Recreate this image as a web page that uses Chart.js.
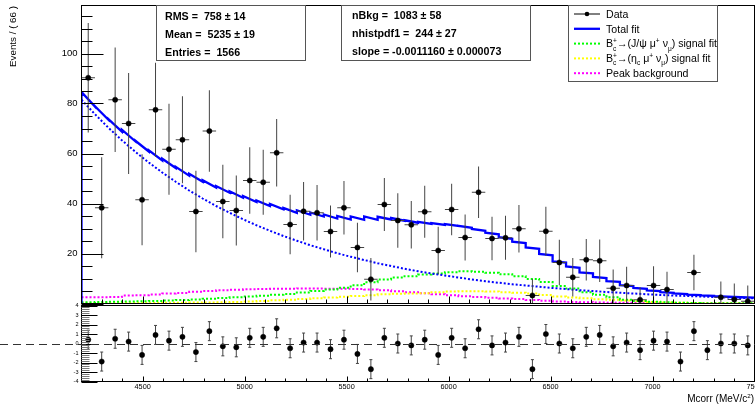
<!DOCTYPE html>
<html>
<head>
<meta charset="utf-8">
<script src="https://cdn.jsdelivr.net/npm/chart.js@4.4.1/dist/chart.umd.min.js"></script>
<style>
  body { margin: 0; background: #fff; }
  #wrap { position: relative; width: 755px; height: 404px; }
  #wrap canvas { position: absolute; left: 0; top: 0; }
</style>
</head>
<body>
<div id="wrap">
  <canvas id="fitPad" width="755" height="404"></canvas>
  <canvas id="pullPad" width="755" height="404"></canvas>
</div>
<script>
// binning: 50 bins of 66 MeV from 4200 to 7500
var binLow = 4200;
var binWidth = 66;

// data (weighted events per bin)
var counts = [90.3, 38.3, 81.5, 72.0, 41.5, 77.5, 61.7, 65.5, 36.8, 69.0,
              40.8, 37.2, 49.2, 48.5, 60.3, 31.6, 36.9, 36.3, 28.8, 38.3,
              22.4, 9.7, 39.6, 33.2, 31.5, 36.7, 21.2, 37.6, 26.4, 44.5,
              26.0, 26.3, 29.9, 3.2, 28.9, 16.4, 10.5, 17.5, 17.1, 6.1,
              7.2, 1.5, 7.2, 5.6, 0, 12.4, 0, 2.5, 1.6, 0.9];
var countErrors = [21.9, 20.2, 20.9, 20.2, 18.2, 18.8, 18.2, 17.4, 16.3, 16.3,
                   14.7, 14.0, 13.3, 13.0, 13.5, 11.9, 11.7, 11.1, 10.4, 10.7,
                   9.9, 8.5, 10.6, 10.9, 9.5, 10.4, 9.5, 10.3, 9.2, 10.3,
                   8.7, 8.8, 9.5, 6.7, 9.8, 9.1, 7.7, 8.3, 8.5, 7.5,
                   7.5, 5.0, 7.7, 7.1, 0, 7.1, 0, 6.3, 6.4, 6.3];

// pulls in the lower pad
var pulls = [0.4, -1.9, 0.5, 0.2, -1.2, 0.9, 0.3, 0.7, -0.9, 1.3,
             -0.3, -0.4, 0.6, 0.7, 1.6, -0.5, 0.1, 0.1, -0.6, 0.4,
             -1.1, -2.7, 0.6, 0.0, -0.2, 0.4, -1.2, 0.6, -0.5, 1.5,
             -0.2, 0.1, 0.7, -2.7, 1.0, 0.0, -0.5, 0.7, 0.9, -0.3,
             0.1, -0.7, 0.3, 0.2, -1.9, 1.3, -0.7, 0.0, 0.0, -0.2];
var pullError = 1;

// combinatorial background (blue dotted), read at the bin edges
var bkgCurve = [81.5, 75.7, 70.3, 65.3, 60.7, 56.4, 52.4, 48.7, 45.2, 42.0,
                39.0, 36.3, 33.7, 31.3, 29.1, 27.0, 25.1, 23.3, 21.7, 20.1,
                18.7, 17.4, 16.1, 15.0, 13.9, 12.9, 12.0, 11.2, 10.4, 9.6,
                8.9, 8.3, 7.7, 7.2, 6.7, 6.2, 5.8, 5.3, 5.0, 4.6,
                4.3, 4.0, 3.7, 3.4, 3.2, 3.0, 2.8, 2.6, 2.4, 2.2, 2.05];

// template components, one value per bin
var jpsiSignal = [0.5, 0.6, 0.7, 0.8, 0.9, 1.0, 1.2, 1.4, 1.6, 1.9,
                  2.2, 2.5, 2.8, 3.1, 3.5, 3.8, 4.4, 5.0, 5.6, 6.3,
                  7.3, 8.5, 9.6, 10.4, 10.9, 11.6, 12.0, 12.5, 12.9, 12.7,
                  12.3, 11.7, 10.9, 9.8, 8.6, 7.0, 6.0, 4.5, 3.5, 2.5,
                  1.5, 1.0, 0.7, 0.5, 0.3, 0.2, 0.15, 0.1, 0.1, 0.1];
var etacSignal = [0.1, 0.1, 0.15, 0.2, 0.2, 0.25, 0.3, 0.35, 0.4, 0.45,
                  0.5, 0.6, 0.8, 1.0, 1.3, 1.5, 1.8, 2.1, 2.4, 2.7,
                  3.0, 3.3, 3.7, 3.9, 4.0, 4.1, 4.5, 4.8, 4.9, 4.9,
                  4.8, 4.5, 4.3, 4.0, 3.4, 2.8, 2.4, 2.1, 1.7, 1.5,
                  1.2, 0.9, 0.6, 0.4, 0.3, 0.2, 0.15, 0.1, 0.1, 0.1];
var peakBkg = [2.5, 2.5, 2.6, 3.2, 3.3, 3.6, 4.0, 4.2, 4.7, 5.0,
               5.3, 5.5, 5.7, 5.8, 5.9, 5.9, 6.0, 6.0, 5.9, 5.9,
               5.8, 5.6, 5.3, 4.9, 4.5, 4.1, 3.7, 3.3, 2.9, 2.6,
               2.3, 2.0, 1.8, 1.4, 1.1, 0.8, 0.6, 0.5, 0.4, 0.35,
               0.3, 0.3, 0.25, 0.2, 0.2, 0.15, 0.15, 0.1, 0.1, 0.1];

var yTickLabels = [20, 40, 60, 80, 100];
var xTickLabels = [4500, 5000, 5500, 6000, 6500, 7000, 7500];
var pullTickLabels = [4, 3, 2, 1, 0, -1, -2, -3, -4];

var statsLeft = ['RMS =  758 \u00b1 14', 'Mean =  5235 \u00b1 19', 'Entries =  1566'];
var statsRight = ['nBkg =  1083 \u00b1 58', 'nhistpdf1 =  244 \u00b1 27', 'slope = -0.0011160 \u00b1 0.000073'];

var FONT = '"Liberation Sans", Arial, Helvetica, sans-serif';

function edge(k) { return binLow + k * binWidth; }
function center(k) { return binLow + (k + 0.5) * binWidth; }

var dataPoints = [];
counts.forEach(function (v, k) {
    if (v > 0) dataPoints.push({ x: center(k), y: v, err: countErrors[k] });
});
var pullPoints = pulls.map(function (v, k) { return { x: center(k), y: v }; });

function histLine(vals) {
    var pts = vals.map(function (v, k) { return { x: edge(k), y: v }; });
    pts.push({ x: edge(vals.length), y: vals[vals.length - 1] });
    return pts;
}
var bkgPoints = bkgCurve.map(function (v, k) { return { x: edge(k), y: v }; });
var totalPoints = [{ x: edge(0), y: 0 }];
for (var k = 0; k < counts.length; k++) {
    var h = jpsiSignal[k] + etacSignal[k] + peakBkg[k];
    totalPoints.push({ x: edge(k), y: bkgCurve[k] + h }, { x: edge(k + 1), y: bkgCurve[k + 1] + h });
}

function line(ctx, x1, y1, x2, y2) {
    ctx.beginPath(); ctx.moveTo(x1, y1); ctx.lineTo(x2, y2); ctx.stroke();
}

// text with ROOT-like sub/superscripts
function richText(ctx, x, y, parts, size) {
    var small = size * 0.62;
    parts.forEach(function (p) {
        var kind = p[p.length - 1];
        if (kind === 0) {
            ctx.font = size + 'px ' + FONT;
            ctx.fillText(p[0], x, y);
            x += ctx.measureText(p[0]).width;
        } else if (kind === 1) {
            ctx.font = small + 'px ' + FONT;
            ctx.fillText(p[0], x, y - size * 0.4);
            x += ctx.measureText(p[0]).width;
        } else if (kind === 2) {
            ctx.font = small + 'px ' + FONT;
            ctx.fillText(p[0], x, y + size * 0.3);
            x += ctx.measureText(p[0]).width;
        } else {
            ctx.font = small + 'px ' + FONT;
            ctx.fillText(p[0], x, y - size * 0.4);
            ctx.fillText(p[1], x, y + size * 0.3);
            x += Math.max(ctx.measureText(p[0]).width, ctx.measureText(p[1]).width);
        }
    });
}

var errorBars = {
    id: 'errorBars',
    beforeDatasetDraw: function (chart, args) {
        if (args.index !== 0) return;
        var ctx = chart.ctx, ca = chart.chartArea;
        var xs = chart.scales.x, ys = chart.scales.y;
        var ds = chart.data.datasets[0].data;
        var caps = chart.options.plugins.errorBars.caps;
        ctx.save();
        ctx.beginPath(); ctx.rect(ca.left, ca.top, ca.right - ca.left, ca.bottom - ca.top); ctx.clip();
        ctx.strokeStyle = '#444'; ctx.lineWidth = 1;
        ds.forEach(function (p) {
            var px = xs.getPixelForValue(p.x);
            var e = p.err !== undefined ? p.err : pullError;
            var yTop = ys.getPixelForValue(p.y + e), yBot = ys.getPixelForValue(p.y - e);
            line(ctx, px, yTop, px, yBot);
            if (caps) {
                line(ctx, px - 1.5, yTop, px + 1.5, yTop);
                line(ctx, px - 1.5, yBot, px + 1.5, yBot);
            } else {
                var py = ys.getPixelForValue(p.y);
                line(ctx, xs.getPixelForValue(p.x - binWidth / 2), py, xs.getPixelForValue(p.x + binWidth / 2), py);
            }
        });
        ctx.restore();
    }
};

var fitDecor = {
    id: 'fitDecor',
    afterDraw: function (chart) {
        var ctx = chart.ctx, ca = chart.chartArea;
        var xs = chart.scales.x, ys = chart.scales.y;
        ctx.save();
        ctx.strokeStyle = '#000'; ctx.lineWidth = 1;
        ctx.strokeRect(ca.left, ca.top, ca.right - ca.left, ca.bottom - ca.top);
        // y ticks inside the frame
        for (var v = 0; v <= 115; v += 5) {
            var py = Math.round(ys.getPixelForValue(v)) + 0.5;
            line(ctx, ca.left, py, ca.left + (v % 20 === 0 ? 22 : 11), py);
        }
        // x ticks on the bottom axis
        for (var xv = 4300; xv < 7500; xv += 100) {
            var px = Math.round(xs.getPixelForValue(xv)) + 0.5;
            line(ctx, px, ca.bottom, px, ca.bottom - (xv % 500 === 0 ? 7 : 4));
        }
        ctx.fillStyle = '#000';
        ctx.font = '9.5px ' + FONT;
        ctx.textAlign = 'right'; ctx.textBaseline = 'middle';
        yTickLabels.forEach(function (t) { ctx.fillText(String(t), 77.5, ys.getPixelForValue(t)); });
        // y title
        ctx.save();
        ctx.translate(13, 6);
        ctx.rotate(-Math.PI / 2);
        ctx.font = '9.8px ' + FONT;
        ctx.textAlign = 'right';
        ctx.fillText('Events / ( 66 )', 0, 0);
        ctx.restore();

        // stat boxes
        function box(x1, x2, y1, y2) {
            ctx.fillStyle = '#fff';
            ctx.fillRect(x1, y1, x2 - x1, y2 - y1);
            ctx.strokeStyle = '#555';
            ctx.strokeRect(x1, y1, x2 - x1, y2 - y1);
        }
        box(156.5, 305.5, 5.5, 60.5);
        box(341.5, 530.5, 5.5, 60.5);
        ctx.fillStyle = '#000';
        ctx.textAlign = 'left'; ctx.textBaseline = 'alphabetic';
        ctx.font = 'bold 10.7px ' + FONT;
        statsLeft.forEach(function (s, i) { ctx.fillText(s, 165, 19.8 + i * 18); });
        statsRight.forEach(function (s, i) { ctx.fillText(s, 352, 18.8 + i * 18); });

        // legend
        box(568.5, 717.5, 5.5, 81.5);
        var ly = [14, 28.8, 43.6, 58.4, 73.2];
        ctx.strokeStyle = '#000'; ctx.lineWidth = 1;
        line(ctx, 574, ly[0], 600, ly[0]);
        ctx.fillStyle = '#000';
        ctx.beginPath(); ctx.arc(587, ly[0], 2.3, 0, Math.PI * 2); ctx.fill();
        ctx.strokeStyle = '#0000ff'; ctx.lineWidth = 2.3;
        line(ctx, 574, ly[1], 600, ly[1]);
        ctx.lineWidth = 2; ctx.setLineDash([2, 2]);
        ctx.strokeStyle = '#00ff00'; line(ctx, 574, ly[2], 600, ly[2]);
        ctx.strokeStyle = '#ffff00'; line(ctx, 574, ly[3], 600, ly[3]);
        ctx.strokeStyle = '#ff00ff'; line(ctx, 574, ly[4], 600, ly[4]);
        ctx.setLineDash([]);
        ctx.fillStyle = '#000';
        var fs = 10.6, base = 3.8;
        richText(ctx, 606, ly[0] + base, [['Data', 0]], fs);
        richText(ctx, 606, ly[1] + base, [['Total fit', 0]], fs);
        richText(ctx, 606, ly[2] + base, [['B', 0], ['+', 'c', 3], ['\u2192(J/\u03c8 \u03bc', 0], ['+', 1],
            [' \u03bd', 0], ['\u03bc', 2], [') signal fit', 0]], fs);
        richText(ctx, 606, ly[3] + base, [['B', 0], ['+', 'c', 3], ['\u2192(\u03b7', 0], ['c', 2], [' \u03bc', 0],
            ['+', 1], [' \u03bd', 0], ['\u03bc', 2], [') signal fit', 0]], fs);
        richText(ctx, 606, ly[4] + base, [['Peak background', 0]], fs);
        ctx.restore();
    }
};

var pullDecor = {
    id: 'pullDecor',
    afterDraw: function (chart) {
        var ctx = chart.ctx, ca = chart.chartArea;
        var xs = chart.scales.x, ys = chart.scales.y;
        ctx.save();
        ctx.strokeStyle = '#000'; ctx.lineWidth = 1;
        ctx.strokeRect(ca.left, ca.top, ca.right - ca.left, ca.bottom - ca.top);
        for (var i = -20; i <= 20; i++) {
            var py = Math.round(ys.getPixelForValue(i / 5)) + 0.5;
            ctx.strokeStyle = i % 5 === 0 ? '#000' : '#777';
            line(ctx, ca.left, py, ca.left + (i % 5 === 0 ? 16 : 8), py);
        }
        ctx.strokeStyle = '#000';
        for (var xv = 4300; xv < 7500; xv += 100) {
            var px = Math.round(xs.getPixelForValue(xv)) + 0.5;
            line(ctx, px, ca.bottom, px, ca.bottom - (xv % 500 === 0 ? 5 : 3));
        }
        // zero line across the whole canvas
        ctx.setLineDash([8, 5]);
        ctx.strokeStyle = '#333';
        var y0 = Math.round(ys.getPixelForValue(0)) + 0.5;
        line(ctx, 0, y0, chart.width, y0);
        ctx.setLineDash([]);

        ctx.fillStyle = '#000';
        ctx.font = '5.5px ' + FONT;
        ctx.textAlign = 'right'; ctx.textBaseline = 'middle';
        pullTickLabels.forEach(function (t) { ctx.fillText(String(t), 78.5, ys.getPixelForValue(t)); });
        ctx.font = '7.3px ' + FONT;
        ctx.textAlign = 'center'; ctx.textBaseline = 'alphabetic';
        xTickLabels.forEach(function (t) { ctx.fillText(String(t), xs.getPixelForValue(t), 388.5); });
        // axis title, right aligned
        var fs = 10;
        ctx.font = fs + 'px ' + FONT;
        var w1 = ctx.measureText('Mcorr (MeV/c').width, w3 = ctx.measureText(')').width;
        ctx.font = (fs * 0.62) + 'px ' + FONT;
        var w2 = ctx.measureText('2').width;
        ctx.textAlign = 'left';
        richText(ctx, 754 - w1 - w2 - w3, 402, [['Mcorr (MeV/c', 0], ['2', 1], [')', 0]], fs);
        ctx.restore();
    }
};

var fitChart = new Chart(document.getElementById('fitPad').getContext('2d'), {
    type: 'scatter',
    data: {
        datasets: [
            { label: 'Data', data: dataPoints, pointRadius: 2.6, pointBackgroundColor: '#000',
              pointBorderColor: '#000', pointBorderWidth: 0.5, showLine: false },
            { label: 'Total fit', data: totalPoints, showLine: true, borderColor: '#0000ff',
              borderWidth: 2.3, pointRadius: 0, tension: 0 },
            { label: 'Background', data: bkgPoints, showLine: true, borderColor: '#0000ff',
              borderWidth: 2, borderDash: [2, 2], pointRadius: 0, tension: 0 },
            { label: 'Jpsi', data: histLine(jpsiSignal), showLine: true, stepped: true,
              borderColor: '#00ff00', borderWidth: 2, borderDash: [2, 2], pointRadius: 0 },
            { label: 'Etac', data: histLine(etacSignal), showLine: true, stepped: true,
              borderColor: '#ffff00', borderWidth: 2, borderDash: [2, 2], pointRadius: 0 },
            { label: 'Peak', data: histLine(peakBkg), showLine: true, stepped: true,
              borderColor: '#ff00ff', borderWidth: 2, borderDash: [2, 2], pointRadius: 0 }
        ]
    },
    options: {
        responsive: false,
        animation: false,
        events: [],
        layout: { autoPadding: false, padding: { left: 81.5, top: 5.5, right: 0.5, bottom: 100.5 } },
        scales: {
            x: { type: 'linear', min: 4200, max: 7500, display: false },
            y: { type: 'linear', min: 0, max: 119.2, display: false }
        },
        plugins: { legend: { display: false }, tooltip: { enabled: false }, errorBars: { caps: false } }
    },
    plugins: [errorBars, fitDecor]
});

var pullChart = new Chart(document.getElementById('pullPad').getContext('2d'), {
    type: 'scatter',
    data: {
        datasets: [
            { label: 'Pull', data: pullPoints, pointRadius: 2.6, pointBackgroundColor: '#000',
              pointBorderColor: '#000', pointBorderWidth: 0.5, showLine: false }
        ]
    },
    options: {
        responsive: false,
        animation: false,
        events: [],
        layout: { autoPadding: false, padding: { left: 81.5, top: 305.5, right: 0.5, bottom: 22.5 } },
        scales: {
            x: { type: 'linear', min: 4200, max: 7500, display: false },
            y: { type: 'linear', min: -4, max: 4, display: false }
        },
        plugins: { legend: { display: false }, tooltip: { enabled: false }, errorBars: { caps: true } }
    },
    plugins: [errorBars, pullDecor]
});
</script>
</body>
</html>
